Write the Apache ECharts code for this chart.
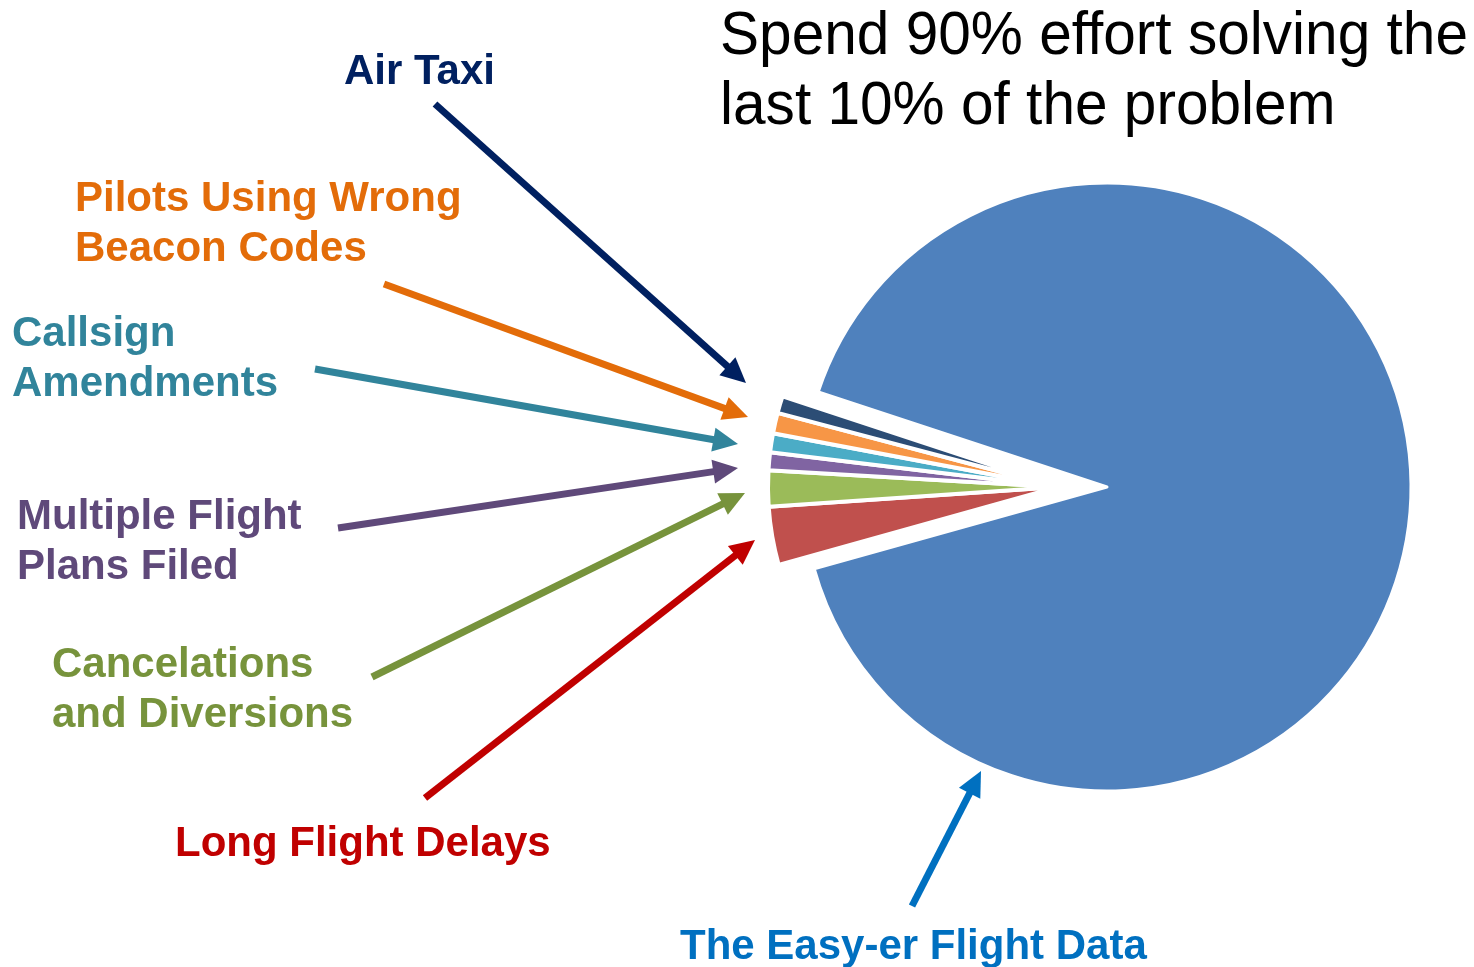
<!DOCTYPE html>
<html>
<head>
<meta charset="utf-8">
<script src="https://cdn.jsdelivr.net/npm/echarts@6/dist/echarts.min.js"></script>
<style>
  html, body { margin: 0; padding: 0; background: #fff; }
  #chart { width: 1474px; height: 967px; }
</style>
</head>
<body>
<div id="chart"></div>
<script>
// share of the effort, in clockwise order starting from the bottom of the wedge
const categories = [
  'Long Flight Delays',
  'Cancelations and Diversions',
  'Multiple Flight Plans Filed',
  'Callsign Amendments',
  'Pilots Using Wrong Beacon Codes',
  'Air Taxi',
  'The Easy-er Flight Data'
];
const values = [3.25, 2.0, 1.0, 1.05, 1.15, 0.95, 90.6];
const sliceColors = ['#C0504D', '#9BBB59', '#8064A2', '#4BACC6', '#F79646', '#2C4D75', '#4F81BD'];
const labelColors = ['#C00000', '#77933C', '#5F497A', '#31849B', '#E36C09', '#002060', '#0070C0'];
const labelLines = [
  ['Long Flight Delays'],
  ['Cancelations', 'and Diversions'],
  ['Multiple Flight', 'Plans Filed'],
  ['Callsign', 'Amendments'],
  ['Pilots Using Wrong', 'Beacon Codes'],
  ['Air Taxi'],
  ['The Easy-er Flight Data']
];
const titleLines = ['Spend 90% effort solving the', 'last 10% of the problem'];

// annotation layout (left x, baseline of first line) and arrows (tail -> tip)
const labelPos = [[175, 857], [52, 678], [17, 530], [12, 347], [75, 212], [344, 85], [680, 960]];
const arrowFrom = [[425, 798], [372, 677], [338, 528], [315, 369], [384, 284], [435, 104], [912, 906]];
const arrowTo = [[755, 540], [745, 493], [738, 468], [738, 444], [748, 417], [746, 383], [981, 771]];

const bigIdx = values.length - 1;
const chart = echarts.init(document.getElementById('chart'));

function pieData(showBig) {
  return values.map((v, i) => {
    const isBig = i === bigIdx;
    const visible = isBig === showBig;
    return {
      name: categories[i],
      value: v,
      itemStyle: {
        color: visible ? sliceColors[i] : 'rgba(0,0,0,0)',
        borderColor: '#fff',
        borderWidth: visible ? (isBig ? 3 : 4) : 0
      }
    };
  });
}

function arrow(from, to, color) {
  const dx = to[0] - from[0], dy = to[1] - from[1];
  const len = Math.sqrt(dx * dx + dy * dy);
  const ux = dx / len, uy = dy / len;
  const headLen = 25, headHalf = 12;
  const bx = to[0] - ux * headLen, by = to[1] - uy * headLen;
  return [
    {
      type: 'line',
      shape: { x1: from[0], y1: from[1], x2: bx + ux * 2, y2: by + uy * 2 },
      style: { stroke: color, lineWidth: 7 }
    },
    {
      type: 'polygon',
      shape: { points: [to, [bx - uy * headHalf, by + ux * headHalf], [bx + uy * headHalf, by - ux * headHalf]] },
      style: { fill: color }
    }
  ];
}

// text is bottom-aligned, so push it down by the font's descent to sit on the baseline
const descent = 0.212;
const graphics = [];
const measure = document.createElement('canvas').getContext('2d');
measure.font = '61px "Liberation Sans"';
const titleScale = 748 / measure.measureText(titleLines[0]).width;
titleLines.forEach((t, k) => {
  graphics.push({
    type: 'text',
    x: 720,
    y: 55 + k * 70 + 61 * descent,
    scaleX: titleScale,
    style: { text: t, x: 0, y: 0, font: '61px "Liberation Sans", Arial, sans-serif', fill: '#000', verticalAlign: 'bottom' },
    z: 10
  });
});

categories.forEach((c, i) => {
  labelLines[i].forEach((line, k) => {
    graphics.push({
      type: 'text',
      x: labelPos[i][0],
      y: labelPos[i][1] + k * 50 + 42 * descent,
      style: { text: line, x: 0, y: 0, font: 'bold 42px "Liberation Sans", Arial, sans-serif', fill: labelColors[i], verticalAlign: 'bottom' },
      z: 10
    });
  });
  arrow(arrowFrom[i], arrowTo[i], labelColors[i]).forEach(g => { g.z = 10; graphics.push(g); });
});

chart.setOption({
  animation: false,
  series: [
    {
      type: 'pie',
      center: [1107, 487],
      radius: 304,
      startAngle: 195.6,
      clockwise: true,
      silent: true,
      label: { show: false },
      labelLine: { show: false },
      data: pieData(true)
    },
    {
      type: 'pie',
      center: [1058, 487],
      radius: 290,
      startAngle: 195.6,
      clockwise: true,
      silent: true,
      label: { show: false },
      labelLine: { show: false },
      data: pieData(false)
    }
  ],
  graphic: graphics
});
</script>
</body>
</html>
